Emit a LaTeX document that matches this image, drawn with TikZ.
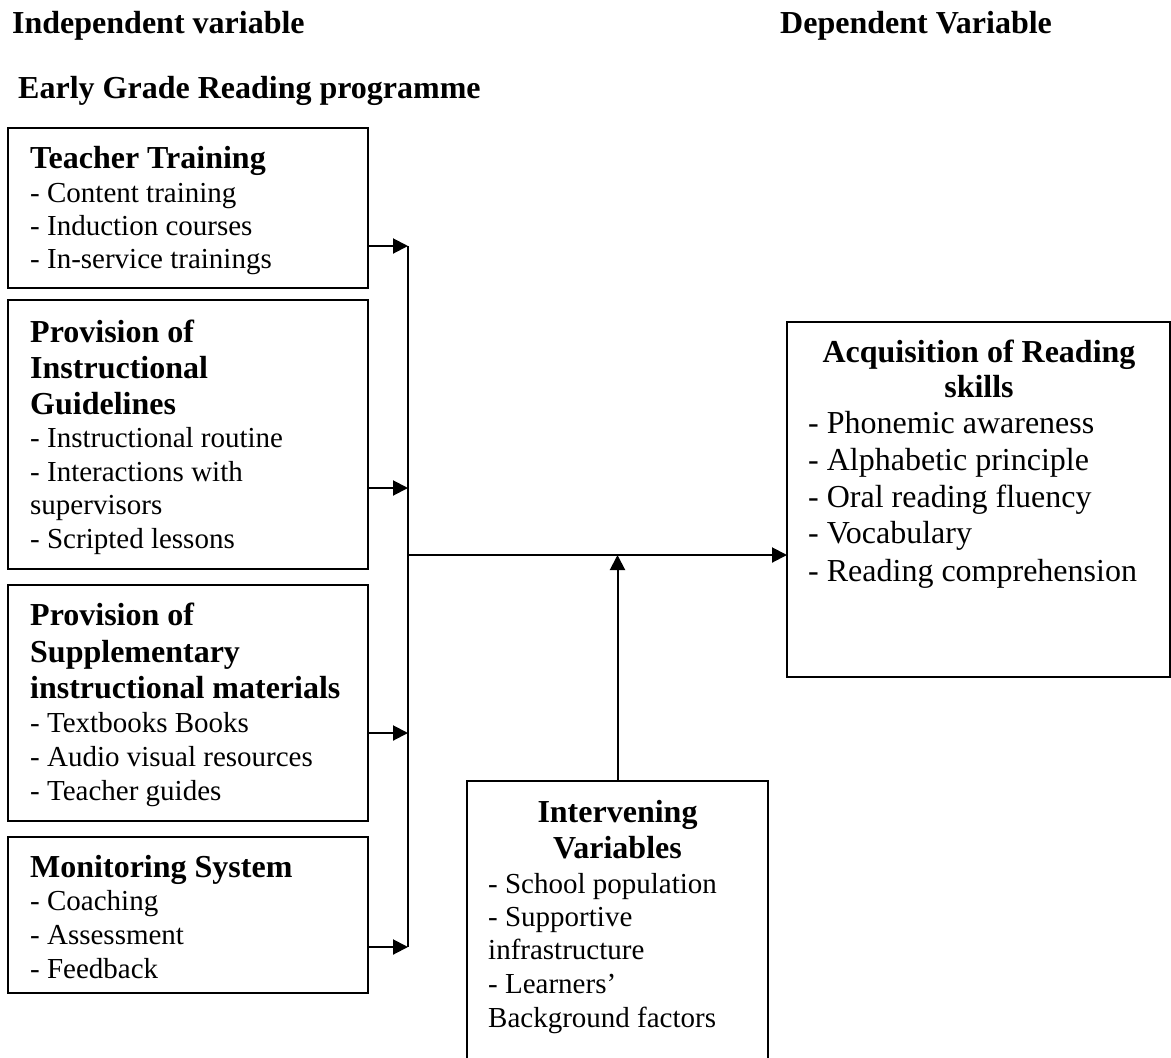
\documentclass[tikz,border=0pt]{standalone}
\usepackage{fontspec}
\setmainfont{Liberation Serif}
\usetikzlibrary{arrows.meta}
\tikzset{
  box/.style={draw, line width=2pt, inner sep=0pt, outer sep=0pt, anchor=north west},
  ttl/.style={anchor=base west, inner sep=0pt, font=\fontsize{32}{36}\selectfont\bfseries},
  ctl/.style={anchor=base, inner sep=0pt, font=\fontsize{32}{36}\selectfont\bfseries},
  body/.style={anchor=base west, inner sep=0pt, font=\fontsize{29}{33}\selectfont},
  bigbody/.style={anchor=base west, inner sep=0pt, font=\fontsize{32}{36}\selectfont},
  arr/.style={-{Triangle[length=15pt,width=15pt]}, line width=2pt},
  conn/.style={line width=2pt}
}
\begin{document}
\begin{tikzpicture}[x=1pt,y=-1pt]
\path[use as bounding box, clip] (0,0) rectangle (1171,1058);

% headers
\node[ttl] (hind) at (12,33) {Independent variable};
\node[ttl] (hdep) at (780,33) {Dependent Variable};
\node[ttl] (hegr) at (18,98) {Early Grade Reading programme};

% left boxes
\node[box, minimum width=360pt, minimum height=160pt] (b1) at (8,128) {};
\node[box, minimum width=360pt, minimum height=269pt] (b2) at (8,300) {};
\node[box, minimum width=360pt, minimum height=236pt] (b3) at (8,585) {};
\node[box, minimum width=360pt, minimum height=156pt] (b4) at (8,837) {};

% box 1 text
\node[ttl]  (t1a) at (30,168) {Teacher Training};
\node[body] (t1b) at (30,202) {- Content training};
\node[body] (t1c) at (30,235) {- Induction courses};
\node[body] (t1d) at (30,268) {- In-service trainings};

% box 2 text
\node[ttl]  (t2a) at (30,342) {Provision of};
\node[ttl]  (t2b) at (30,378) {Instructional};
\node[ttl]  (t2c) at (30,414) {Guidelines};
\node[body] (t2d) at (30,447) {- Instructional routine};
\node[body] (t2e) at (30,481) {- Interactions with};
\node[body] (t2f) at (30,514) {supervisors};
\node[body] (t2g) at (30,548) {- Scripted lessons};

% box 3 text
\node[ttl]  (t3a) at (30,625) {Provision of};
\node[ttl]  (t3b) at (30,662) {Supplementary};
\node[ttl]  (t3c) at (30,698) {instructional materials};
\node[body] (t3d) at (30,732) {- Textbooks Books};
\node[body] (t3e) at (30,766) {- Audio visual resources};
\node[body] (t3f) at (30,800) {- Teacher guides};

% box 4 text
\node[ttl]  (t4a) at (30,877) {Monitoring System};
\node[body] (t4b) at (30,910) {- Coaching};
\node[body] (t4c) at (30,944) {- Assessment};
\node[body] (t4d) at (30,978) {- Feedback};

% dependent box
\node[box, minimum width=383pt, minimum height=355pt] (dep) at (787,322) {};
\node[ctl] (tda) at (979,362) {Acquisition of Reading};
\node[ctl] (tdb) at (979,397) {skills};
\node[bigbody] (tdc) at (808,433) {- Phonemic awareness};
\node[bigbody] (tdd) at (808,470) {- Alphabetic principle};
\node[bigbody] (tde) at (808,507) {- Oral reading fluency};
\node[bigbody] (tdf) at (808,543) {- Vocabulary};
\node[bigbody] (tdg) at (808,581) {- Reading comprehension};

% intervening box
\node[box, minimum width=301pt, minimum height=300pt] (int) at (467,781) {};
\node[ctl] (tia) at (617.5,822) {Intervening};
\node[ctl] (tib) at (617.5,858) {Variables};
\node[body] (tic) at (488,893) {- School population};
\node[body] (tid) at (488,926) {- Supportive};
\node[body] (tie) at (488,959) {infrastructure};
\node[body] (tif) at (488,993) {- Learners'};
\node[body] (tig) at (488,1027) {Background factors};

% connectors
\coordinate (v1) at (408,246);
\coordinate (v2) at (408,488);
\coordinate (v3) at (408,733);
\coordinate (v4) at (408,947);
\coordinate (j) at (408,555);
\draw[arr] (b1.east |- v1) -- (v1);
\draw[arr] (b2.east |- v2) -- (v2);
\draw[arr] (b3.east |- v3) -- (v3);
\draw[arr] (b4.east |- v4) -- (v4);
\draw[conn] (v1) -- (v4);
\draw[arr] (j) -- (dep.west |- j);
\draw[arr] (int.north) -- (int.north |- j);
\end{tikzpicture}
\end{document}
